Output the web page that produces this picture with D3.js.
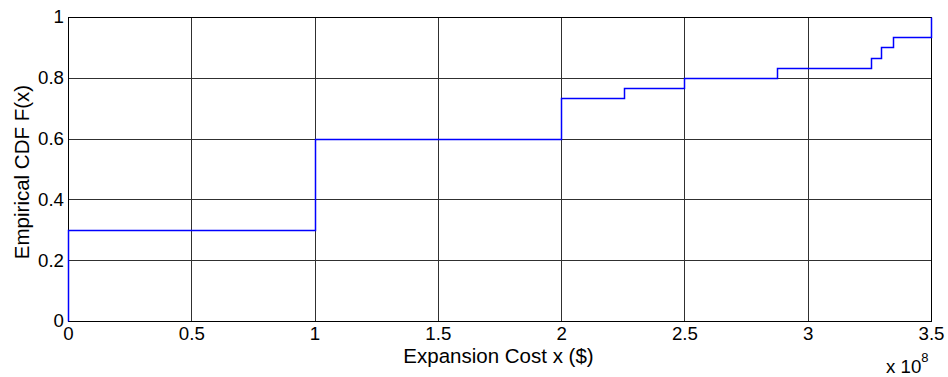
<!DOCTYPE html>
<html>
<head>
<meta charset="utf-8">
<script src="https://cdn.jsdelivr.net/npm/d3@7"></script>
<style>
  body { margin: 0; background: #fff; }
  svg text { font-family: "Liberation Sans", Arial, sans-serif; fill: #000; }
</style>
</head>
<body>
<svg id="chart" width="948" height="377"></svg>
<script>
// sample costs (units of 1e8 $) and their repeat counts, n = 30
let costValues = [0, 1, 2, 2.256, 2.5, 2.874, 3.256, 3.297, 3.347, 3.5];
let costCounts = [9, 9, 4, 1, 1, 1, 1, 1, 1, 2];
let xTicks = [0, 0.5, 1, 1.5, 2, 2.5, 3, 3.5];
let yTicks = [0, 0.2, 0.4, 0.6, 0.8, 1];

let svg = d3.select("#chart");
let margin = {top: 17, right: 17, bottom: 56, left: 68};
let width = 948 - margin.left - margin.right;
let height = 377 - margin.top - margin.bottom;
let tickFont = 18.7;
let labelFont = 20.5;

let x = d3.scaleLinear().domain([0, 3.5]).range([0, width]);
let y = d3.scaleLinear().domain([0, 1]).range([height, 0]);
let px = v => Math.round(x(v)) + 0.5;
let py = v => Math.round(y(v)) + 0.5;

let g = svg.append("g")
    .attr("transform", "translate(" + margin.left + "," + margin.top + ")");

// build empirical cdf step points
let total = d3.sum(costCounts);
let stepPts = [[0, 0]];
let cum = 0;
costValues.forEach((v, i) => {
    stepPts.push([v, cum / total]);
    cum += costCounts[i];
    stepPts.push([v, cum / total]);
});

// grid
let grid = g.append("g").attr("class", "grid").attr("shape-rendering", "crispEdges");
grid.selectAll("line.gx")
    .data(xTicks).enter().append("line")
    .attr("class", "gx")
    .attr("x1", px).attr("x2", px)
    .attr("y1", 0).attr("y2", height)
    .attr("stroke", "#303030").attr("stroke-width", 1);
grid.selectAll("line.gy")
    .data(yTicks).enter().append("line")
    .attr("class", "gy")
    .attr("y1", py).attr("y2", py)
    .attr("x1", 0).attr("x2", width)
    .attr("stroke", "#303030").attr("stroke-width", 1);

// box
g.append("rect")
    .attr("x", 0.5).attr("y", 0.5)
    .attr("width", Math.round(width)).attr("height", Math.round(height))
    .attr("shape-rendering", "crispEdges")
    .attr("fill", "none").attr("stroke", "#000").attr("stroke-width", 1);

// axes labels
let xAxis = d3.axisBottom(x).tickValues(xTicks).tickSize(0).tickPadding(6).tickFormat(d3.format("~g"));
let yAxis = d3.axisLeft(y).tickValues(yTicks).tickSize(0).tickPadding(4).tickFormat(d3.format("~g"));

let xg = g.append("g").attr("transform", "translate(0," + height + ")").call(xAxis);
let yg = g.append("g").call(yAxis);
[xg, yg].forEach(a => {
    a.select(".domain").remove();
    a.selectAll(".tick line").remove();
    a.selectAll("text").style("font-size", tickFont + "px").attr("fill", "#000");
});

// ecdf stairs, drawn on top of everything
let line = d3.line().x(d => px(d[0])).y(d => py(d[1]));
svg.append("g")
    .attr("transform", "translate(" + margin.left + "," + margin.top + ")")
    .append("path")
    .datum(stepPts)
    .attr("d", line)
    .attr("fill", "none")
    .attr("stroke", "#0000ff")
    .attr("stroke-width", 1.5);

svg.append("text")
    .attr("x", margin.left + width / 2 - 1)
    .attr("y", 363)
    .attr("text-anchor", "middle")
    .style("font-size", labelFont + "px")
    .text("Expansion Cost x ($)");

svg.append("text")
    .attr("transform", "translate(29," + (margin.top + height / 2 + 3) + ") rotate(-90)")
    .attr("text-anchor", "middle")
    .style("font-size", labelFont + "px")
    .text("Empirical CDF F(x)");

let mult = svg.append("text")
    .attr("x", 886)
    .attr("y", 373)
    .style("font-size", tickFont + "px");
mult.append("tspan").text("x 10");
mult.append("tspan").attr("dy", -11).style("font-size", "13px").text("8");
</script>
</body>
</html>
